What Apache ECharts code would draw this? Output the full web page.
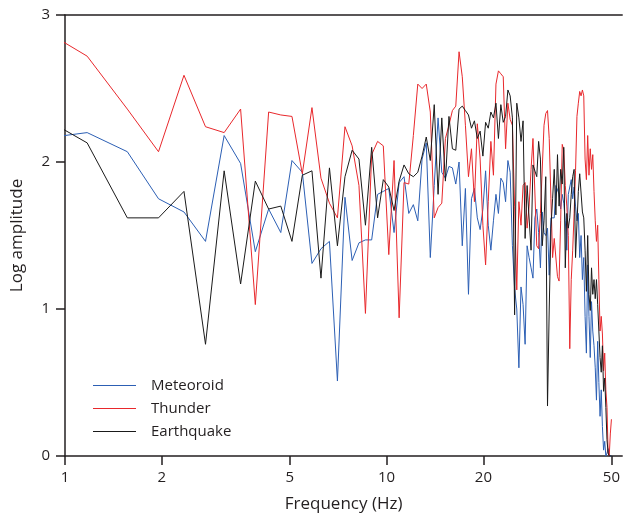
<!DOCTYPE html>
<html>
<head>
<meta charset="utf-8">
<script src="https://cdn.jsdelivr.net/npm/echarts@6/dist/echarts.min.js"></script>
<style>
  html, body { margin: 0; padding: 0; background: #fff; }
  #chart { width: 623px; height: 518px; }
</style>
</head>
<body>
<div id="chart"></div>
<script>
// Spectra sampled on FFT bins: 100 Hz sampling rate, 256-point window,
// bins 2..128 (0.78 Hz .. 50 Hz).
const sampleRate = 100;
const fftLength = 256;
const firstBin = 2;

const seriesNames = ['Meteoroid', 'Thunder', 'Earthquake'];
const xTicks = [1, 2, 5, 10, 20, 50];
const yTicks = [0, 1, 2, 3];

// Log amplitude per bin, starting at bin 2
const meteoroid = [
  2.15, 2.20, 2.07, 1.75, 1.66, 1.46, 2.18, 1.99, 1.39, 1.68,
  1.52, 2.01, 1.93, 1.31, 1.41, 1.46, 0.51, 1.76, 1.33, 1.45,
  1.47, 1.47, 1.78, 1.80, 1.82, 1.52, 1.86, 1.90, 1.65, 1.71,
  1.60, 2.02, 2.13, 1.35, 1.84, 2.30, 1.93, 1.89, 1.97, 1.96,
  1.85, 2.00, 1.43, 1.82, 1.10, 1.75, 1.82, 1.62, 1.54, 1.68,
  1.94, 1.57, 1.40, 1.60, 1.78, 1.65, 1.89, 1.86, 1.73, 2.01,
  1.93, 1.43, 1.14, 1.00, 0.60, 1.15, 1.03, 0.76, 1.43, 1.35,
  1.28, 1.21, 1.62, 1.68, 1.52, 1.28, 1.66, 1.52, 1.50, 1.55,
  1.23, 1.62, 1.63, 1.62, 1.84, 1.83, 1.78, 1.68, 1.78, 1.72,
  1.60, 1.40, 1.78, 1.79, 1.88, 1.75, 1.83, 1.70, 1.60, 1.65,
  1.35, 1.50, 1.20, 1.35, 0.95, 0.70, 1.30, 0.95, 0.67, 1.05,
  0.85, 0.75, 0.60, 0.38, 0.78, 0.50, 0.27, 0.45, 0.20, 0.04,
  0.10, 0.00, 0.02, 0.05, 0.00, 0.00, 0.00
];

const thunder = [
  2.95, 2.72, 2.36, 2.07, 2.59, 2.24, 2.20, 2.36, 1.03, 2.34,
  2.32, 2.31, 1.92, 2.37, 1.89, 1.72, 1.62, 2.24, 2.11, 1.84,
  0.97, 2.05, 2.14, 2.11, 1.37, 2.01, 0.94, 1.86, 1.85, 2.18,
  2.53, 2.50, 2.53, 2.34, 1.62, 1.69, 1.72, 2.16, 2.25, 2.35,
  2.38, 2.75, 2.58, 2.25, 1.90, 2.09, 1.73, 2.26, 2.02, 1.57,
  1.30, 1.73, 2.14, 1.91, 2.53, 2.62, 2.60, 2.58, 2.09, 2.40,
  2.29, 2.25, 1.70, 1.13, 1.73, 1.57, 1.84, 1.86, 1.55, 1.70,
  1.95, 2.16, 2.17, 1.43, 1.41, 1.65, 1.66, 2.25, 2.33, 2.35,
  2.16, 1.75, 1.35, 1.48, 1.48, 1.22, 1.19, 1.60, 2.12, 2.08,
  1.84, 1.70, 1.50, 0.73, 1.20, 1.40, 1.65, 1.94, 2.31, 2.40,
  2.48, 2.45, 2.49, 2.45, 2.02, 1.88, 2.18, 1.91, 2.09, 1.95,
  2.05, 1.80, 1.60, 1.46, 1.57, 1.20, 0.85, 0.95, 0.83, 0.58,
  0.70, 0.45, 0.33, 0.02, 0.00, 0.15, 0.25
];

const earthquake = [
  2.35, 2.13, 1.62, 1.62, 1.80, 0.76, 1.94, 1.17, 1.87, 1.68,
  1.70, 1.46, 1.91, 1.94, 1.21, 1.96, 1.43, 1.90, 2.08, 2.02,
  1.57, 2.10, 1.62, 1.88, 1.83, 1.67, 1.87, 1.98, 1.92, 1.90,
  1.93, 2.04, 2.17, 2.01, 2.39, 1.78, 2.30, 1.87, 2.31, 2.09,
  2.08, 2.36, 2.38, 2.35, 2.32, 2.23, 2.28, 2.16, 2.21, 2.04,
  2.27, 2.23, 2.34, 2.30, 2.40, 2.16, 2.39, 2.27, 2.31, 2.49,
  2.45, 2.30, 0.96, 2.40, 2.30, 2.14, 2.28, 1.48, 1.84, 1.85,
  1.40, 1.98, 1.98, 1.90, 2.14, 2.02, 1.43, 1.60, 1.90, 0.34,
  1.00, 1.55, 1.75, 1.95, 1.64, 2.05, 1.70, 1.95, 1.85, 2.10,
  1.28, 1.65, 1.55, 1.62, 1.78, 1.90, 1.95, 1.35, 1.35, 1.80,
  1.92, 1.92, 1.66, 1.62, 1.40, 1.12, 1.50, 1.10, 0.99, 1.28,
  1.10, 1.20, 1.07, 1.20, 1.03, 0.85, 0.67, 0.57, 0.75, 0.44,
  0.53, 0.33, 0.11, 0.02, 0.00, 0.00, 0.00
];

const colors = ['#2c5fb4', '#e8282c', '#1a1a1a'];

function toPairs(values) {
  const df = sampleRate / fftLength;
  return values.map((v, i) => [(firstBin + i) * df, v]);
}

const FONT = '"Open Sans", "Noto Sans", sans-serif';
const TEXT = '#231f20';

const chart = echarts.init(document.getElementById('chart'), null, { renderer: 'canvas' });

chart.setOption({
  animation: false,
  backgroundColor: '#ffffff',
  grid: { left: 65, right: 0, top: 15, bottom: 59, containLabel: false },
  legend: {
    orient: 'vertical',
    left: 88,
    top: 373,
    itemWidth: 43,
    itemHeight: 14,
    itemGap: 8,
    icon: 'path://M0,7L43,7L43,8L0,8Z',
    data: seriesNames,
    textStyle: { fontFamily: FONT, fontSize: 15, color: TEXT, padding: [0, 0, 0, 10] }
  },
  xAxis: [
    {
      type: 'log',
      logBase: 10,
      min: 1,
      max: 54,
      position: 'bottom',
      name: 'Frequency (Hz)',
      nameLocation: 'middle',
      nameGap: 40,
      nameTextStyle: { fontFamily: FONT, fontSize: 17, color: TEXT },
      axisLine: { show: true, onZero: false, lineStyle: { color: '#231f20', width: 1.5 } },
      axisTick: { show: true, inside: false, length: 9, customValues: xTicks, lineStyle: { color: '#231f20', width: 1.5 } },
      axisLabel: { show: true, margin: 14, customValues: xTicks, fontFamily: FONT, fontSize: 15, color: TEXT },
      splitLine: { show: false },
      minorTick: { show: false }
    },
    {
      type: 'log',
      min: 1,
      max: 54,
      position: 'top',
      axisLine: { show: true, onZero: false, lineStyle: { color: '#231f20', width: 1.5 } },
      axisTick: { show: false },
      axisLabel: { show: false },
      splitLine: { show: false }
    }
  ],
  yAxis: {
    type: 'value',
    min: 0,
    max: 3,
    interval: 1,
    name: 'Log amplitude',
    nameLocation: 'middle',
    nameGap: 39,
    nameTextStyle: { fontFamily: FONT, fontSize: 17, color: TEXT },
    axisLine: { show: true, onZero: false, lineStyle: { color: '#231f20', width: 1.5 } },
    axisTick: { show: true, inside: false, length: 9, lineStyle: { color: '#231f20', width: 1.5 } },
    axisLabel: { margin: 15, fontFamily: FONT, fontSize: 15, color: TEXT, formatter: v => yTicks.includes(v) ? String(v) : '' },
    splitLine: { show: false }
  },
  series: [meteoroid, thunder, earthquake].map((vals, i) => ({
    name: seriesNames[i],
    type: 'line',
    xAxisIndex: 0,
    data: toPairs(vals),
    symbol: 'none',
    showSymbol: false,
    clip: true,
    color: colors[i],
    lineStyle: { color: colors[i], width: 1 },
    z: 2 + i
  }))
});
</script>
</body>
</html>
